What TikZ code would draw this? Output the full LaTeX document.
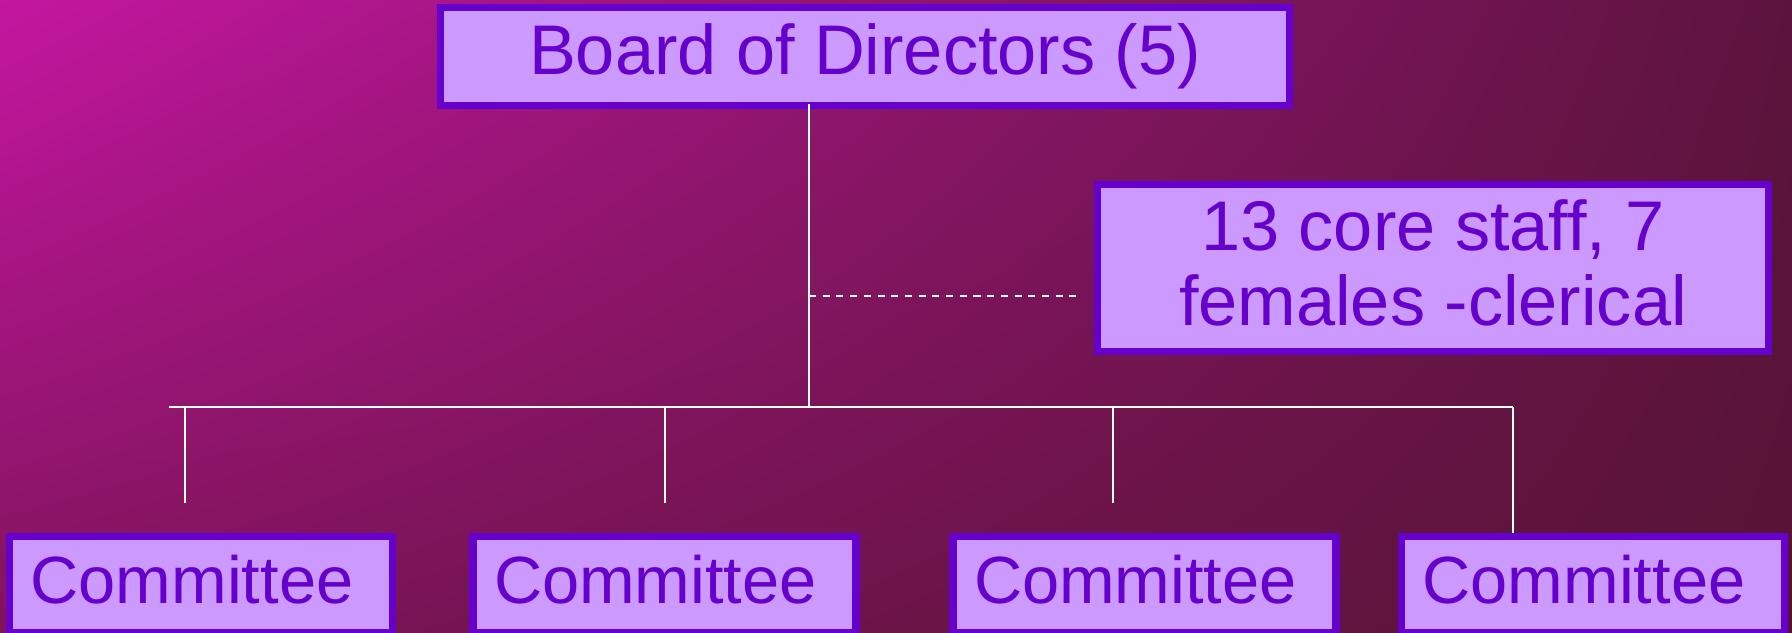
\documentclass[tikz,border=0pt]{standalone}
\usepackage{fontspec}
\setmainfont{Liberation Sans}
\usetikzlibrary{shadings}

\definecolor{boxfill}{RGB}{204,153,255}
\definecolor{boxline}{RGB}{102,0,204}
\definecolor{bgul}{RGB}{196,22,160}
\definecolor{bgur}{RGB}{92,20,62}
\definecolor{bgll}{RGB}{128,20,92}
\definecolor{bglr}{RGB}{86,20,52}

\tikzset{
  orgbox/.style={draw=boxline, line width=2pt, fill=boxfill, text=boxline,
    inner sep=0pt, font=\fontsize{20}{21.3}\selectfont},
  combox/.style={orgbox, font=\fontsize{19}{21.3}\selectfont, text width=3.41cm,
    inner xsep=0.21cm, minimum height=0.96cm, text depth=0.1cm, align=left},
  wire/.style={draw=white, line width=0.6pt},
}

\begin{document}
\begin{tikzpicture}
  \useasboundingbox (0,0) rectangle (17.92,6.33);
  \clip (0,0) rectangle (17.92,6.33);
  \shade[upper left=bgul, upper right=bgur, lower left=bgll, lower right=bglr]
    (0,0) rectangle (17.92,6.33);

  % boxes
  \node (board) at (8.65,5.765) [orgbox, minimum width=8.49cm, minimum height=0.98cm] {Board of Directors (5)};
  \node (staff) at (14.33,3.65) [orgbox, minimum width=6.71cm, minimum height=1.67cm, text depth=0.1cm, align=center] {13 core staff, 7\\females -clerical};
  \node (c1) at (2.01,0.485) [combox] {Committee};
  \node (c2) at (6.645,0.485) [combox] {Committee};
  \node (c3) at (11.445,0.485) [combox] {Committee};
  \node (c4) at (15.93,0.485) [combox] {Committee};

  % tree lines
  \coordinate (hub) at (8.09,2.26);
  \coordinate (tee) at (8.09,3.37);
  \coordinate (tee end) at (10.81,3.37);
  \coordinate (bar left) at (1.69,2.26);
  \coordinate (bar right) at (15.13,2.26);
  \coordinate (d1) at (1.85,2.26);
  \coordinate (d2) at (6.65,2.26);
  \coordinate (d3) at (11.13,2.26);

  \draw[wire] ([yshift=0.05cm]board.south -| hub) -- (hub);
  \draw[wire, dash pattern=on 2pt off 1.9pt] (tee) -- (tee end);
  \draw[wire] (bar left) -- (bar right);
  \draw[wire] (d1) -- ++(0,-0.96);
  \draw[wire] (d2) -- ++(0,-0.96);
  \draw[wire] (d3) -- ++(0,-0.96);
  \draw[wire] (bar right) -- (c4.north -| bar right);
\end{tikzpicture}
\end{document}
